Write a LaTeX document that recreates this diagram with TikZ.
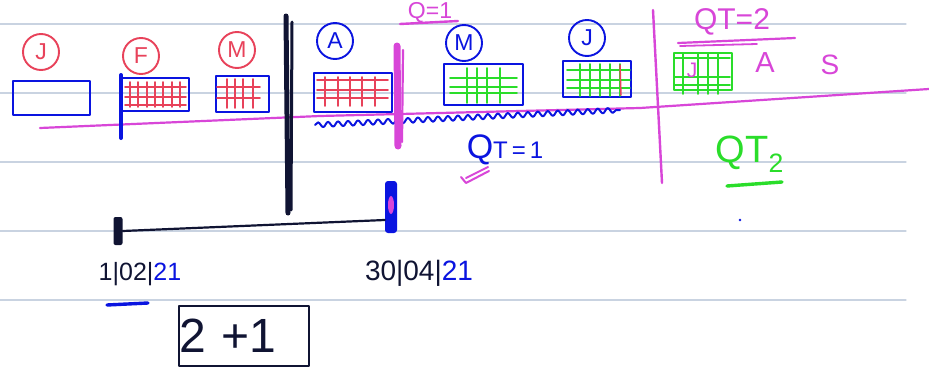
\documentclass[tikz,border=0pt]{standalone}
\usepackage{fontspec}
\setmainfont{Liberation Sans}
\usepackage{tikz}
\usetikzlibrary{positioning}
\usetikzlibrary{decorations.pathmorphing}

\definecolor{penred}{HTML}{E8425A}
\definecolor{penblue}{HTML}{0A14E0}
\definecolor{penpink}{HTML}{D846D8}
\definecolor{pengreen}{HTML}{2ADD2A}
\definecolor{penink}{HTML}{101433}
\definecolor{ruled}{HTML}{C9D3E1}

\tikzset{
    monthtag/.style={circle, draw=#1, text=#1, line width=1.9pt, inner sep=0pt,
        minimum size=36pt, font=\fontsize{23}{23}\selectfont},
    monthbox/.style={draw=#1, line width=2.4pt, inner sep=0pt, anchor=north west},
    gridpen/.style={#1, line width=1.8pt},
    scrawl/.style={font=\fontsize{#1}{#1}\selectfont, inner sep=0pt},
}

\begin{document}
\begin{tikzpicture}[x=1pt, y=-1pt, line cap=round, line join=round]
    \useasboundingbox (0,0) rectangle (929,367);
    \fill[white] (0,0) rectangle (929,367);
    \foreach \y in {24,93,162,231,300}
        \draw[ruled, line width=1.2pt] (0,\y) -- (906,\y);

    \node[monthbox=penblue, minimum width=77pt, minimum height=34pt] (janbox) at (12,80) {};
    \node[monthbox=penblue, minimum width=68pt, minimum height=33pt] (febbox) at (120,77) {};
    \node[monthbox=penblue, minimum width=53pt, minimum height=36pt] (marbox) at (215,75) {};
    \node[monthbox=penblue, minimum width=78pt, minimum height=39pt] (aprbox) at (313,72) {};
    \node[monthbox=penblue, minimum width=79pt, minimum height=41pt] (maybox) at (443,63) {};
    \node[monthbox=penblue, minimum width=68pt, minimum height=36pt] (junbox) at (562,60) {};
    \node[monthbox=pengreen, line width=2pt, minimum width=58pt, minimum height=37pt] (julbox) at (673,52) {};

    \node[monthtag=penred] (jan) at (41,52) {J};
    \node[monthtag=penred] (feb) at (141,56) {F};
    \node[monthtag=penred] (mar) at (237,50) {M};
    \node[monthtag=penblue] (apr) at (335,41) {A};
    \node[monthtag=penblue] (may) at (464,43) {M};
    \node[monthtag=penblue] (jun) at (587,38) {J};

    \foreach \x in {130,138,147,155,163,172,180}
        \draw[gridpen=penred] (\x,82) -- (\x,107);
    \foreach \y in {87,97,105}
        \draw[gridpen=penred] (125,\y) -- (186,\y);
    \foreach \x in {227,235,243,253}
        \draw[gridpen=penred] (\x,79) -- (\x,108);
    \foreach \y in {87,98}
        \draw[gridpen=penred] (217,\y) -- (260,\y);
    \foreach \x in {325,338,350,362,375}
        \draw[gridpen=penred] (\x,77) -- (\x,106);
    \foreach \y in {80,90,98}
        \draw[gridpen=penred] (317,\y) -- (388,\y);
    \foreach \x in {467,477,487,500}
        \draw[gridpen=pengreen] (\x,68) -- (\x,103);
    \foreach \y in {78,87,93}
        \draw[gridpen=pengreen] (450,\y) -- (517,\y);
    \foreach \x in {580,590,600,610,620}
        \draw[gridpen=pengreen] (\x,64) -- (\x,96);
    \foreach \y in {70,80,88}
        \draw[gridpen=pengreen] (567,\y) -- (630,\y);
    \draw[penred, line width=1.5pt] (620,65) -- (621,95);
    \foreach \x in {683,698,708,718}
        \draw[gridpen=pengreen] (\x,54) -- (\x,94);
    \foreach \y in {58,77,85}
        \draw[gridpen=pengreen] (675,\y) -- (730,\y);

    \draw[penpink, line width=2.2pt] (40,128) -- (320,116) -- (640,108) -- (929,89);
    \draw[penpink, line width=2.4pt] (653,10) -- (662,183);
    \draw[penblue, line width=4pt] (121,75) -- (121,138);
    \draw[penblue, line width=2pt, decorate,
        decoration={snake, amplitude=2.5pt, segment length=10pt}] (315,125) -- (620,110);
    \draw[penink, line width=5pt] (286,16) -- (288,213);
    \draw[penink, line width=3pt] (292,22) -- (291,210);
    \draw[penpink, line width=7pt] (397,46) -- (398,146);
    \draw[penpink, line width=2.2pt] (403,50) -- (402,142);

    \node[scrawl=23, text=penpink, anchor=north] (qone) at (430,2) {Q=1};
    \draw[penpink, line width=2.4pt] (400,24) -- (458,21);
    \node[scrawl=30, text=penpink] (qtwo) at (732,22) {QT=2};
    \draw[penpink, line width=2.2pt] (678,43) -- (795,38);
    \draw[penpink, line width=1.8pt] (680,46) -- (757,44);
    \node[scrawl=21, text=penpink] (jul) at (692,70) {J};
    \node[scrawl=29, text=penpink] (aug) at (765,63) {A};
    \node[scrawl=28, text=penpink] (sep) at (830,65) {S};

    \node[scrawl=34, text=penblue] (qtone) at (505,150)
        {Q{\fontsize{24}{24}\selectfont T\,=\,1}};
    \draw[penpink, line width=2pt] (461,177) -- (466,183) -- (489,171);
    \draw[penpink, line width=2pt] (466,178) -- (488,167);
    \node[scrawl=38, text=pengreen] (qttwo) at (750,154) {QT\textsubscript{2}};
    \draw[pengreen, line width=3.4pt] (727,186) -- (782,182);
    \fill[penblue] (740,220) circle (1.4pt);

    \node[fill=penink, rounded corners=2pt, minimum width=9pt, minimum height=28pt, inner sep=0pt] (start) at (118,231) {};
    \node[fill=penblue, rounded corners=3pt, minimum width=12pt, minimum height=52pt, inner sep=0pt] (finish) at (391,207) {};
    \fill[penpink] (391,205) ellipse (3pt and 9pt);
    \draw[penink, line width=2.2pt] (start.east) -- ([yshift=-13pt]finish.west);

    \node[scrawl=25, text=penink] (startdate) at (140,274) {1|02|\textcolor{penblue}{21}};
    \draw[penblue, line width=3.4pt] (107,305) -- (148,303);
    \node[scrawl=28, text=penink] (enddate) at (419,273) {30|04|\textcolor{penblue}{21}};

    \node[draw=penink, line width=1.8pt, text width=130pt, inner sep=3pt, minimum height=60pt,
        align=left, scrawl=48, text=penink] (sum) at (244,336) {2 +1};
\end{tikzpicture}
\end{document}
